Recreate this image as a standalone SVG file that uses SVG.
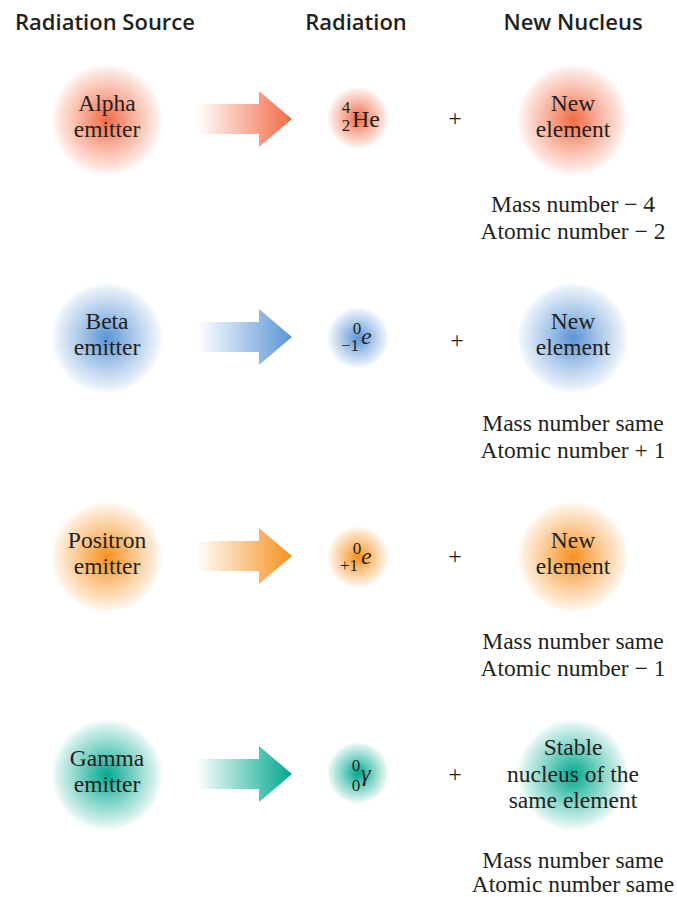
<svg xmlns="http://www.w3.org/2000/svg" width="677" height="897" viewBox="0 0 677 897">
<style>
.h{font-family:"Open Sans","Liberation Sans",sans-serif;font-weight:600;font-size:22px;fill:#231f20;text-anchor:middle}
.t{font-family:"Liberation Serif","Times New Roman",serif;font-size:23.5px;fill:#231f20;text-anchor:middle}
.s{font-family:"Liberation Serif","Times New Roman",serif;font-size:17px;fill:#231f20;text-anchor:middle}
.n{font-family:"Liberation Serif","Times New Roman",serif;font-size:24px;fill:#231f20}
.p{font-family:"Liberation Serif","Times New Roman",serif;font-size:24px;fill:#231f20;text-anchor:middle}
</style>
<defs>
<radialGradient id="ga"><stop offset="0" stop-color="#f26b45"/><stop offset="0.5" stop-color="#f26b45" stop-opacity="0.5"/><stop offset="0.88" stop-color="#f26b45" stop-opacity="0.15"/><stop offset="1" stop-color="#f26b45" stop-opacity="0"/></radialGradient>
<radialGradient id="gb"><stop offset="0" stop-color="#5b95d6"/><stop offset="0.5" stop-color="#5b95d6" stop-opacity="0.5"/><stop offset="0.88" stop-color="#5b95d6" stop-opacity="0.15"/><stop offset="1" stop-color="#5b95d6" stop-opacity="0"/></radialGradient>
<radialGradient id="gp"><stop offset="0" stop-color="#f7901e"/><stop offset="0.5" stop-color="#f7901e" stop-opacity="0.5"/><stop offset="0.88" stop-color="#f7901e" stop-opacity="0.15"/><stop offset="1" stop-color="#f7901e" stop-opacity="0"/></radialGradient>
<radialGradient id="gg"><stop offset="0" stop-color="#00a88f"/><stop offset="0.5" stop-color="#00a88f" stop-opacity="0.5"/><stop offset="0.88" stop-color="#00a88f" stop-opacity="0.15"/><stop offset="1" stop-color="#00a88f" stop-opacity="0"/></radialGradient>
<linearGradient id="la" x1="0" x2="1"><stop offset="0" stop-color="#f26b45" stop-opacity="0"/><stop offset="1" stop-color="#f26b45"/></linearGradient>
<linearGradient id="lb" x1="0" x2="1"><stop offset="0" stop-color="#5b95d6" stop-opacity="0"/><stop offset="1" stop-color="#5b95d6"/></linearGradient>
<linearGradient id="lp" x1="0" x2="1"><stop offset="0" stop-color="#f7901e" stop-opacity="0"/><stop offset="1" stop-color="#f7901e"/></linearGradient>
<linearGradient id="lg" x1="0" x2="1"><stop offset="0" stop-color="#00a88f" stop-opacity="0"/><stop offset="1" stop-color="#00a88f"/></linearGradient>
<path id="arr" d="M0,-15 H62 V-28 L95,0 L62,28 V15 H0 Z"/>
</defs>
<g id="headers">
<text class="h" x="105" y="30">Radiation Source</text>
<text class="h" x="356" y="30">Radiation</text>
<text class="h" x="573" y="30">New Nucleus</text>
</g>
<g id="connectors">
<use href="#arr" x="197" y="119" fill="url(#la)"/>
<use href="#arr" x="197" y="337" fill="url(#lb)"/>
<use href="#arr" x="197" y="556" fill="url(#lp)"/>
<use href="#arr" x="197" y="774" fill="url(#lg)"/>
</g>
<g id="alpha-source"><circle cx="107" cy="120" r="56" fill="url(#ga)"/><text class="t" x="107" y="111">Alpha</text><text class="t" x="107" y="137">emitter</text></g>
<g id="alpha-radiation"><circle cx="358" cy="118" r="31" fill="url(#ga)"/><text class="s" x="346" y="113">4</text><text class="s" x="346" y="131">2</text><text class="n" x="352" y="127">He</text></g>
<g id="alpha-plus"><text class="p" x="455" y="126">+</text></g>
<g id="alpha-new"><circle cx="573" cy="120" r="56" fill="url(#ga)"/><text class="t" x="573" y="111">New</text><text class="t" x="573" y="137">element</text></g>
<g id="alpha-change"><text class="t" x="573" y="212">Mass number − 4</text><text class="t" x="573" y="239">Atomic number − 2</text></g>

<g id="beta-source"><circle cx="107" cy="338" r="56" fill="url(#gb)"/><text class="t" x="107" y="329">Beta</text><text class="t" x="107" y="355">emitter</text></g>
<g id="beta-radiation"><circle cx="358" cy="338" r="31" fill="url(#gb)"/><text class="s" x="357" y="334">0</text><text class="s" x="350" y="351">−1</text><text class="n" x="361" y="344" font-style="italic">e</text></g>
<g id="beta-plus"><text class="p" x="457" y="348">+</text></g>
<g id="beta-new"><circle cx="573" cy="338" r="56" fill="url(#gb)"/><text class="t" x="573" y="329">New</text><text class="t" x="573" y="355">element</text></g>
<g id="beta-change"><text class="t" x="573" y="431">Mass number same</text><text class="t" x="573" y="458">Atomic number + 1</text></g>

<g id="positron-source"><circle cx="107" cy="557" r="56" fill="url(#gp)"/><text class="t" x="107" y="548">Positron</text><text class="t" x="107" y="574">emitter</text></g>
<g id="positron-radiation"><circle cx="358" cy="557" r="31" fill="url(#gp)"/><text class="s" x="357" y="554">0</text><text class="s" x="349" y="571">+1</text><text class="n" x="361" y="564" font-style="italic">e</text></g>
<g id="positron-plus"><text class="p" x="455" y="564">+</text></g>
<g id="positron-new"><circle cx="573" cy="557" r="56" fill="url(#gp)"/><text class="t" x="573" y="548">New</text><text class="t" x="573" y="574">element</text></g>
<g id="positron-change"><text class="t" x="573" y="649">Mass number same</text><text class="t" x="573" y="676">Atomic number − 1</text></g>

<g id="gamma-source"><circle cx="107" cy="775" r="56" fill="url(#gg)"/><text class="t" x="107" y="766">Gamma</text><text class="t" x="107" y="792">emitter</text></g>
<g id="gamma-radiation"><circle cx="358" cy="773" r="31" fill="url(#gg)"/><text class="s" x="356" y="771" font-size="16px">0</text><text class="s" x="356" y="791" font-size="16px">0</text><text class="n" x="361" y="781" font-style="italic">γ</text></g>
<g id="gamma-plus"><text class="p" x="455" y="782">+</text></g>
<g id="gamma-new"><circle cx="573" cy="775" r="56" fill="url(#gg)"/><text class="t" x="573" y="755">Stable</text><text class="t" x="573" y="782">nucleus of the</text><text class="t" x="573" y="808">same element</text></g>
<g id="gamma-change"><text class="t" x="573" y="868">Mass number same</text><text class="t" x="573" y="892">Atomic number same</text></g>
</svg>
